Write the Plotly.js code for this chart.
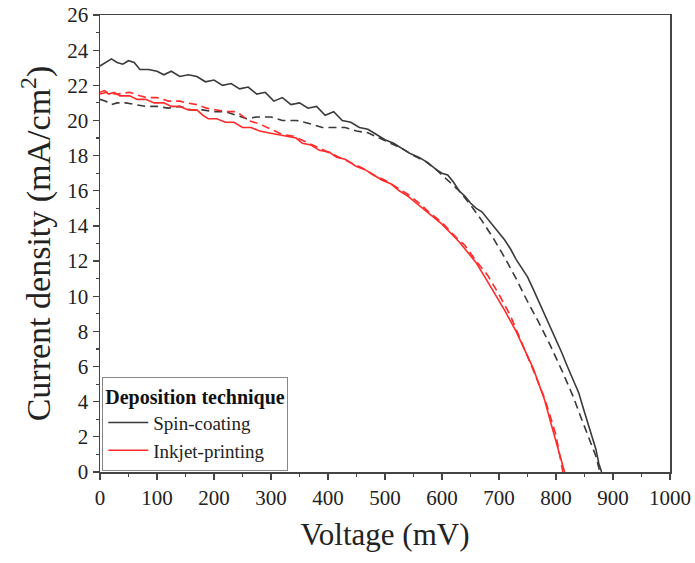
<!DOCTYPE html>
<html>
<head>
<meta charset="utf-8">
<script src="https://cdn.plot.ly/plotly-3.0.1.min.js"></script>
<style>html,body{margin:0;padding:0;background:#fff;}</style>
</head>
<body>
<div id="chart" style="width:695px;height:563px;"></div>
<script>
// Spin-coating, solid line
const spinV = [0,10,20,30,40,50,60,70,85,100,112,125,140,155,170,185,200,215,230,245,260,275,290,305,320,335,350,365,380,395,410,425,440,455,470,485,500,515,530,545,560,575,590,600,610,620,630,640,650,660,670,680,690,700,710,720,730,740,750,760,770,780,790,800,810,820,830,840,850,860,870,875,880];
const spinJ = [23.1,23.3,23.5,23.3,23.2,23.4,23.3,22.9,22.9,22.8,22.6,22.8,22.5,22.6,22.5,22.2,22.3,22.0,22.1,21.8,21.9,21.5,21.6,21.1,21.3,20.9,21.0,20.7,20.8,20.3,20.5,20.0,19.9,19.6,19.5,19.2,18.9,18.7,18.4,18.1,17.9,17.6,17.2,17.0,16.9,16.5,16.0,15.7,15.3,15.0,14.8,14.4,14.0,13.6,13.2,12.7,12.1,11.6,11.1,10.4,9.7,9.0,8.2,7.5,6.8,6.0,5.2,4.5,3.4,2.3,1.3,0.5,0];
// Spin-coating, dashed line
const spinDashV = [0,10,20,30,45,60,80,100,120,140,160,180,200,220,240,257,275,300,320,345,370,390,410,430,450,470,490,510,530,550,570,590,610,630,650,670,690,710,730,750,770,790,810,830,845,860,870,877];
const spinDashJ = [21.2,21.1,20.9,21.0,21.0,20.9,20.8,20.8,20.7,20.8,20.6,20.6,20.5,20.5,20.3,20.1,20.2,20.2,20.0,20.0,19.8,19.6,19.6,19.6,19.4,19.3,19.0,18.7,18.4,18.0,17.7,17.2,16.6,16.0,15.2,14.3,13.3,12.2,11.0,9.7,8.5,7.2,5.8,4.3,3.0,1.8,0.9,0];
// Inkjet-printing, solid line
const inkV = [0,8,15,25,35,52,65,80,95,112,125,140,155,170,180,190,205,220,235,250,265,280,295,310,325,344,355,370,385,402,415,430,449,465,480,495,510,525,540,555,570,585,600,615,630,645,660,675,690,700,710,720,730,740,750,760,770,780,790,800,808,815];
const inkJ = [21.6,21.7,21.5,21.6,21.4,21.4,21.2,21.2,21.0,21.0,20.8,20.8,20.6,20.6,20.3,20.1,20.1,19.9,19.9,19.6,19.6,19.4,19.3,19.2,19.1,19.0,18.7,18.6,18.3,18.2,17.9,17.8,17.4,17.2,16.9,16.6,16.4,16.0,15.7,15.3,14.9,14.5,14.1,13.6,13.1,12.5,11.9,11.1,10.3,9.8,9.2,8.6,8.0,7.3,6.6,5.9,5.0,4.1,2.9,1.8,0.9,0];
// Inkjet-printing, dashed line
const inkDashV = [0,12,30,52,70,82,100,120,140,152,170,187,205,222,240,260,280,300,320,340,360,380,400,420,440,460,480,500,520,540,560,580,600,620,640,660,680,700,720,740,760,780,800,812];
const inkDashJ = [21.5,21.6,21.5,21.6,21.4,21.3,21.3,21.1,21.1,21.0,20.9,20.7,20.6,20.5,20.5,20.0,19.8,19.5,19.2,19.1,18.8,18.5,18.2,17.9,17.6,17.3,16.9,16.6,16.2,15.8,15.3,14.7,14.2,13.5,12.9,12.0,11.2,10.1,8.9,7.4,5.8,4.2,2.1,0];

const black = '#3a3a3a';
const red = '#ff2b2b';
const font = 'Liberation Serif';

const traces = [
  {x: spinV, y: spinJ, mode: 'lines', name: 'Spin-coating', line: {color: black, width: 1.6}},
  {x: spinDashV, y: spinDashJ, mode: 'lines', showlegend: false, line: {color: black, width: 1.6, dash: '8px,5px'}},
  {x: inkV, y: inkJ, mode: 'lines', name: 'Inkjet-printing', line: {color: red, width: 1.6}},
  {x: inkDashV, y: inkDashJ, mode: 'lines', showlegend: false, line: {color: red, width: 1.6, dash: '8px,5px'}}
];

function axisBase() {
  return {
    showline: true, linecolor: '#444', linewidth: 1.5, mirror: true,
    showgrid: false, zeroline: false,
    ticks: 'outside', ticklen: 6, tickwidth: 1.2, tickcolor: '#444',
    tickfont: {family: font, size: 21, color: '#222'}
  };
}

const layout = {
  width: 695, height: 563,
  margin: {l: 100, r: 25, t: 15, b: 91},
  paper_bgcolor: '#fff', plot_bgcolor: '#fff',
  font: {family: font, color: '#222', size: 20},
  xaxis: Object.assign(axisBase(), {
    range: [0, 1000], dtick: 100, tick0: 0,
    minor: {dtick: 50, ticks: 'outside', ticklen: 3, tickcolor: '#444'},
    title: {text: 'Voltage (mV)', font: {family: font, size: 31, color: '#222'}, standoff: 14}
  }),
  yaxis: Object.assign(axisBase(), {
    range: [0, 26], dtick: 2, tick0: 0,
    minor: {dtick: 1, ticks: 'outside', ticklen: 3, tickcolor: '#444'},
    title: {text: 'Current density (mA/cm<sup>2</sup>)', font: {family: font, size: 34, color: '#222'}, standoff: 6}
  }),
  legend: {
    x: 0.004, y: 0.003, xanchor: 'left', yanchor: 'bottom',
    bgcolor: '#fff', bordercolor: '#888', borderwidth: 1,
    font: {family: font, size: 19, color: '#222'},
    title: {text: '<b>Deposition technique</b>', font: {family: font, size: 20, color: '#111'}},
    tracegroupgap: 0, itemwidth: 40
  },
  showlegend: true
};

Plotly.newPlot('chart', traces, layout, {displayModeBar: false, staticPlot: true});
</script>
</body>
</html>
